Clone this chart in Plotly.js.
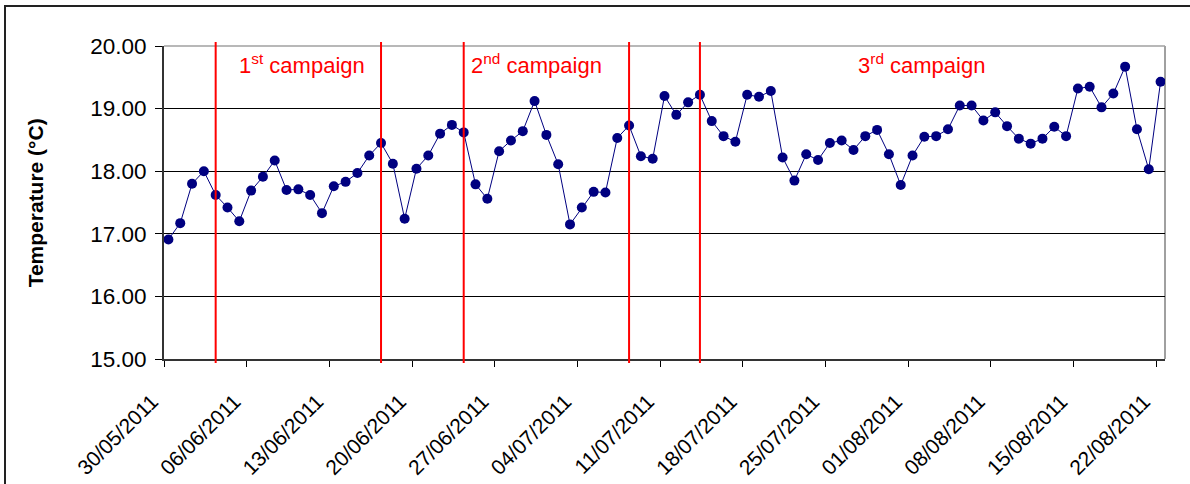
<!DOCTYPE html>
<html>
<head>
<meta charset="utf-8">
<script src="https://cdn.plot.ly/plotly-3.0.1.min.js"></script>
<style>
  html, body { margin: 0; padding: 0; background: #fff; }
  #wrap { position: relative; width: 1190px; height: 484px; overflow: hidden; }
  #chart { width: 1190px; height: 484px; }
  #frame { position: absolute; left: 4px; top: 5px; width: 1300px; height: 600px;
           border-top: 2px solid #222; border-left: 2px solid #222; pointer-events: none; }
</style>
</head>
<body>
<div id="wrap"><div id="chart"></div><div id="frame"></div></div>
<script>
// ---- data ----
const startDate = '2011-05-30';   // first daily reading
const readingTime = '09:00';      // readings sit a little after each date tick
const temperature = [
  16.91, 17.17, 17.80, 18.00, 17.62, 17.42, 17.20, 17.69, 17.91, 18.17,
  17.70, 17.71, 17.62, 17.33, 17.76, 17.83, 17.97, 18.25, 18.45, 18.12,
  17.24, 18.04, 18.25, 18.60, 18.74, 18.62, 17.79, 17.56, 18.32, 18.49,
  18.64, 19.12, 18.58, 18.11, 17.15, 17.42, 17.67, 17.66, 18.53, 18.73,
  18.24, 18.20, 19.20, 18.90, 19.10, 19.22, 18.80, 18.56, 18.47, 19.22,
  19.19, 19.28, 18.22, 17.85, 18.27, 18.18, 18.45, 18.49, 18.34, 18.56,
  18.66, 18.27, 17.78, 18.25, 18.55, 18.56, 18.67, 19.05, 19.05, 18.81,
  18.94, 18.72, 18.52, 18.44, 18.52, 18.71, 18.56, 19.32, 19.35, 19.02,
  19.24, 19.67, 18.67, 18.03, 19.43
];
const campaignBoundaryDates = ['2011-06-03', '2011-06-17', '2011-06-24', '2011-07-08', '2011-07-14'];
const campaignLabels = ['1<sup>st</sup> campaign', '2<sup>nd</sup> campaign', '3<sup>rd</sup> campaign'];
const tickDates = ['2011-05-30','2011-06-06','2011-06-13','2011-06-20','2011-06-27','2011-07-04',
                   '2011-07-11','2011-07-18','2011-07-25','2011-08-01','2011-08-08','2011-08-15','2011-08-22'];
const yTicks = [15, 16, 17, 18, 19, 20];

// ---- build daily dates ----
function addDays(iso, n) {
  const d = new Date(iso + 'T00:00:00Z');
  d.setUTCDate(d.getUTCDate() + n);
  return d.toISOString().slice(0, 10);
}
const dates = temperature.map((_, i) => addDays(startDate, i) + ' ' + readingTime);
const tickText = tickDates.map(s => s.slice(8, 10) + '/' + s.slice(5, 7) + '/' + s.slice(0, 4));

const font = 'Arial, "Liberation Sans", sans-serif';

const trace = {
  x: dates, y: temperature, type: 'scatter', mode: 'lines+markers',
  line: { color: '#000080', width: 1 },
  marker: { color: '#000080', size: 10 },
  hoverinfo: 'x+y'
};

const shapes = campaignBoundaryDates.map(d => ({
  type: 'line', xref: 'x', yref: 'paper',
  x0: d + ' ' + readingTime, x1: d + ' ' + readingTime, y0: -0.013, y1: 1.013,
  line: { color: '#ff0000', width: 2 }
}));
shapes.push({ type: 'line', xref: 'paper', yref: 'paper', x0: 0, x1: 1, y0: 1, y1: 1,
              line: { color: '#a0a0a0', width: 1.5 }, layer: 'below' });
shapes.push({ type: 'line', xref: 'paper', yref: 'paper', x0: 1, x1: 1, y0: 0, y1: 1,
              line: { color: '#a0a0a0', width: 2 }, layer: 'below' });

const labelX = [0.1374, 0.3723, 0.7572];
const annotations = campaignLabels.map((t, i) => ({
  text: t, xref: 'paper', yref: 'paper', x: labelX[i], y: 0.944,
  xanchor: 'center', yanchor: 'middle', showarrow: false,
  font: { family: font, size: 22, color: '#ff0000' }
}));
annotations.push({
  text: '<b>Temperature (°C)</b>', xref: 'paper', yref: 'paper', x: -0.128, y: 0.5,
  xanchor: 'center', yanchor: 'middle', textangle: -90, showarrow: false,
  font: { family: font, size: 21, color: '#000' }
});

const layout = {
  width: 1190, height: 484,
  margin: { l: 164, r: 25, t: 46, b: 125 },
  paper_bgcolor: '#fff', plot_bgcolor: '#fff',
  showlegend: false,
  font: { family: font, color: '#000' },
  xaxis: {
    type: 'date', range: ['2011-05-30 00:00', '2011-08-22 18:00'],
    tickmode: 'array', tickvals: tickDates, ticktext: tickText,
    tickangle: -45, tickfont: { family: font, size: 21, color: '#000' },
    ticks: 'outside', ticklen: 6, tickwidth: 1, tickcolor: '#000',
    ticklabelstandoff: 14, ticklabelshift: -12,
    showline: true, linecolor: '#333', linewidth: 2,
    showgrid: false, zeroline: false, automargin: false, fixedrange: true
  },
  yaxis: {
    range: [15, 20], tickmode: 'array', tickvals: yTicks, tickformat: '.2f',
    tickfont: { family: font, size: 22.5, color: '#000' },
    ticks: 'outside', ticklen: 7, tickwidth: 1, tickcolor: '#000',
    ticklabelstandoff: 4,
    showline: true, linecolor: '#333', linewidth: 2,
    showgrid: true, gridcolor: '#000', gridwidth: 1,
    zeroline: false, automargin: false, fixedrange: true
  },
  shapes: shapes,
  annotations: annotations
};

Plotly.newPlot('chart', [trace], layout, { displayModeBar: false, staticPlot: true });
</script>
</body>
</html>
